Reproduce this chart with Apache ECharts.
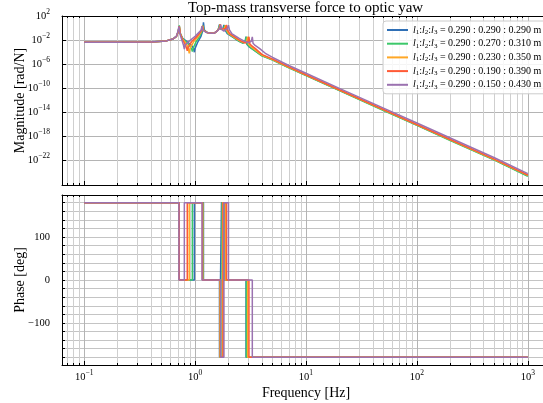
<!DOCTYPE html>
<html><head><meta charset="utf-8">
<script src="https://cdn.jsdelivr.net/npm/echarts@6/dist/echarts.min.js"></script>
<style>html,body{margin:0;padding:0;background:#fff}#c{width:543px;height:403px}</style>
</head><body><div id="c"></div><script>
// ---------- data ----------
const chartTitle = 'Top-mass transverse force to optic yaw';
const ratios = ['0.290 : 0.290 : 0.290', '0.290 : 0.270 : 0.310', '0.290 : 0.230 : 0.350', '0.290 : 0.190 : 0.390', '0.290 : 0.150 : 0.430'];
const colors = ['#2f6fb5', '#3cc86a', '#ffa726', '#ff5a36', '#9b72b0'];

const magTicks = [1e2, 1e-2, 1e-6, 1e-10, 1e-14, 1e-18, 1e-22];
const phaseLabelTicks = [-100, 0, 100];
const phaseGridTicks = [-180, -160, -140, -120, -100, -80, -60, -40, -20, 0, 20, 40, 60, 80, 100, 120, 140, 160, 180];
const freqMajorTicks = [0.1, 1, 10, 100, 1000];

// series 1 (blue)
const magFreq1 = [0.1,0.2,0.4,0.55,0.63,0.68,0.705,0.72,0.735,0.77,0.85,0.93,0.97,0.985,1.0,1.06,1.13,1.17,1.19,1.21,1.27,1.35,1.42,1.5,1.58,1.63,1.66,1.69,1.73,1.78,1.82,1.86,1.95,2.1,2.3,2.5,2.7,2.82,2.88,2.93,3.05,3.3,4,5,7,10,20,50,100,200,500,1000];
const mag1 = [4.0e-3,4.1e-3,4.7e-3,7.0e-3,1.4e-2,4.0e-2,0.25,2.0,0.13,2.0e-2,5.0e-3,1.3e-3,3.5e-4,9.0e-5,4.0e-4,5.0e-3,4.0e-2,0.3,9.0,0.5,0.2,0.14,0.13,0.15,0.3,0.9,4.0,0.6,0.3,0.8,3.2,0.5,0.12,5.0e-2,1.6e-2,6.0e-3,3.0e-3,6.0e-3,3.5e-2,2.0e-3,8.0e-4,3.0e-4,2.5e-5,5.0e-6,2.5e-7,1.3e-8,4.0e-11,2.0e-14,6.3e-17,2.0e-19,1.0e-22,2.2e-25];
const phFreq1 = [0.1,0.72,0.72,0.985,0.985,1.19,1.19,1.66,1.66,1.73,1.73,1.82,1.82,2.88,2.88,1000];
const ph1 = [180,180,0,0,180,180,0,0,-180,-180,180,180,0,0,-180,-180];

// series 2 (green)
const magFreq2 = [0.1,0.2,0.4,0.55,0.63,0.68,0.705,0.72,0.735,0.77,0.83,0.89,0.93,0.945,0.96,1.02,1.1,1.16,1.18,1.2,1.27,1.35,1.42,1.5,1.58,1.64,1.67,1.70,1.75,1.81,1.85,1.89,1.98,2.12,2.3,2.5,2.7,2.84,2.90,2.95,3.08,3.3,4,5,7,10,20,50,100,200,500,1000];
const mag2 = [4.0e-3,4.1e-3,4.7e-3,7.0e-3,1.4e-2,4.0e-2,0.3,2.8,0.13,1.8e-2,5.0e-3,1.2e-3,3.0e-4,1.2e-4,4.0e-4,5.0e-3,4.0e-2,0.35,2.5,0.45,0.2,0.14,0.13,0.15,0.3,0.9,4.0,0.6,0.3,0.8,3.0,0.5,0.12,5.0e-2,1.7e-2,6.0e-3,3.0e-3,6.0e-3,3.5e-2,2.0e-3,8.0e-4,3.0e-4,2.2e-5,4.5e-6,2.2e-7,1.1e-8,3.5e-11,1.7e-14,5.5e-17,1.7e-19,9.0e-23,1.8e-25];
const phFreq2 = [0.1,0.72,0.72,0.945,0.945,1.18,1.18,1.67,1.67,1.75,1.75,1.85,1.85,2.90,2.90,1000];
const ph2 = [180,180,0,0,180,180,0,0,-180,-180,180,180,0,0,-180,-180];

// series 3 (orange)
const magFreq3 = [0.1,0.2,0.4,0.55,0.63,0.68,0.705,0.72,0.735,0.77,0.82,0.86,0.875,0.885,0.9,0.97,1.07,1.15,1.17,1.19,1.26,1.35,1.42,1.5,1.58,1.65,1.68,1.71,1.77,1.84,1.88,1.92,2.01,2.16,2.35,2.55,2.78,2.92,2.98,3.03,3.16,3.4,4,5,7,10,20,50,100,200,500,1000];
const mag3 = [4.0e-3,4.1e-3,4.7e-3,7.0e-3,1.4e-2,4.0e-2,0.25,2.0,0.12,1.5e-2,3.5e-3,8.0e-4,2.0e-4,6.0e-5,4.0e-4,5.0e-3,4.0e-2,0.35,2.2,0.45,0.2,0.14,0.13,0.15,0.3,0.9,4.0,0.6,0.3,0.8,3.0,0.5,0.12,5.0e-2,1.7e-2,6.5e-3,3.2e-3,6.0e-3,3.5e-2,2.2e-3,9.0e-4,3.3e-4,3.0e-5,5.5e-6,2.7e-7,1.4e-8,4.4e-11,2.2e-14,7.0e-17,2.2e-19,1.1e-22,2.5e-25];
const phFreq3 = [0.1,0.72,0.72,0.885,0.885,1.17,1.17,1.68,1.68,1.77,1.77,1.88,1.88,2.98,2.98,1000];
const ph3 = [180,180,0,0,180,180,0,0,-180,-180,180,180,0,0,-180,-180];

// series 4 (red)
const magFreq4 = [0.1,0.2,0.4,0.55,0.63,0.68,0.705,0.72,0.735,0.77,0.81,0.84,0.85,0.865,0.93,1.04,1.14,1.165,1.185,1.26,1.35,1.42,1.5,1.58,1.66,1.69,1.72,1.79,1.88,1.92,1.96,2.05,2.2,2.4,2.6,2.85,3.0,3.06,3.11,3.25,3.5,4,5,7,10,20,50,100,200,500,1000];
const mag4 = [4.0e-3,4.1e-3,4.7e-3,7.0e-3,1.4e-2,4.0e-2,0.25,2.0,0.11,1.2e-2,2.0e-3,4.0e-4,1.5e-4,6.0e-4,5.0e-3,4.0e-2,0.35,2.2,0.45,0.2,0.14,0.13,0.15,0.3,0.9,4.0,0.6,0.3,0.8,3.2,0.5,0.12,5.0e-2,1.7e-2,6.5e-3,3.2e-3,6.0e-3,3.5e-2,2.4e-3,1.0e-3,3.6e-4,4.0e-5,6.5e-6,3.2e-7,1.6e-8,5.0e-11,2.5e-14,8.0e-17,2.5e-19,1.3e-22,2.9e-25];
const phFreq4 = [0.1,0.72,0.72,0.85,0.85,1.165,1.165,1.69,1.69,1.79,1.79,1.92,1.92,3.06,3.06,1000];
const ph4 = [180,180,0,0,180,180,0,0,-180,-180,180,180,0,0,-180,-180];

// series 5 (purple)
const magFreq5 = [0.1,0.2,0.4,0.55,0.63,0.68,0.70,0.715,0.73,0.76,0.785,0.80,0.815,0.88,1.0,1.13,1.155,1.175,1.25,1.35,1.42,1.5,1.58,1.67,1.70,1.73,1.82,1.95,2.0,2.04,2.14,2.3,2.5,2.75,3.05,3.21,3.28,3.33,3.48,3.8,4.3,5,7,10,20,50,100,200,500,1000];
const mag5 = [4.0e-3,4.1e-3,4.7e-3,7.0e-3,1.4e-2,4.5e-2,0.25,1.8,0.1,1.0e-2,1.5e-3,3.0e-4,1.5e-3,6.0e-3,4.0e-2,0.4,2.0,0.45,0.2,0.14,0.13,0.15,0.3,0.9,3.5,0.6,0.3,0.8,3.0,0.5,0.12,5.0e-2,1.8e-2,7.0e-3,3.5e-3,6.0e-3,3.2e-2,2.8e-3,1.2e-3,4.0e-4,6.0e-5,1.2e-5,5.5e-7,2.8e-8,8.5e-11,4.3e-14,1.4e-16,4.3e-19,2.2e-22,5.0e-25];
const phFreq5 = [0.1,0.715,0.715,0.80,0.80,1.155,1.155,1.70,1.70,1.82,1.82,2.0,2.0,3.28,3.28,1000];
const ph5 = [180,180,0,0,180,180,0,0,-180,-180,180,180,0,0,-180,-180];

// ---------- build chart ----------
const magFreqs = [magFreq1, magFreq2, magFreq3, magFreq4, magFreq5];
const mags = [mag1, mag2, mag3, mag4, mag5];
const phFreqs = [phFreq1, phFreq2, phFreq3, phFreq4, phFreq5];
const phs = [ph1, ph2, ph3, ph4, ph5];

const freqMinorTicks = [];
[0.01, 0.1, 1, 10, 100].forEach(d => { for (let k = 2; k <= 9; k++) freqMinorTicks.push(+(k * d).toPrecision(3)); });

const SERIF = '"Liberation Serif", "DejaVu Serif", serif';
const X_MIN = 0.0631, X_MAX = 1585;
const Y_MIN = 6.3e-27, Y_MAX = 100;
const names = ratios.map((r, i) => 'S' + i);

// centre the title over the plot area (plot spans x 62..550)
const TITLE_SIZE = 15;
const mctx = document.createElement('canvas').getContext('2d');
mctx.font = TITLE_SIZE + 'px ' + SERIF;
const titleW = mctx.measureText(chartTitle).width;
const titleLeft = Math.round(306 - titleW / 2);

function sup(e) { return '{b|10}{s|' + (e < 0 ? '\u2212' + (-e) : e) + '}'; }
const powRich = {
  b: { fontFamily: SERIF, fontSize: 10.5, color: '#000', lineHeight: 14 },
  s: { fontFamily: SERIF, fontSize: 7.5, color: '#000', padding: [0, 0, 8, 0], lineHeight: 14 }
};

function xAxes(gridIndex, showLabels) {
  return [
    { type: 'log', gridIndex, position: 'bottom', min: X_MIN, max: X_MAX, logBase: 10,
      axisLine: { show: true, onZero: false, lineStyle: { color: '#000', width: 1 } },
      axisTick: { show: true, inside: true, length: 4, lineStyle: { color: '#000' }, customValues: freqMajorTicks },
      axisLabel: { show: showLabels, customValues: freqMajorTicks, margin: 5,
        formatter: v => sup(Math.round(Math.log10(v))), rich: powRich },
      splitLine: { show: true, lineStyle: { color: '#b4b4b4', width: 1 } },
      name: showLabels ? 'Frequency [Hz]' : '', nameLocation: 'middle', nameGap: 17,
      nameTextStyle: { fontFamily: SERIF, fontSize: 14, color: '#000' } },
    { type: 'log', gridIndex, position: 'top', min: X_MIN, max: X_MAX, logBase: 10,
      axisLine: { show: true, onZero: false, lineStyle: { color: '#000', width: 1 } },
      axisTick: { show: true, inside: true, length: 2, lineStyle: { color: '#000' }, customValues: freqMinorTicks },
      axisLabel: { show: false },
      splitLine: { show: true, lineStyle: { color: '#cfcfcf', width: 1 } } },
    { type: 'log', gridIndex, position: 'bottom', min: X_MIN, max: X_MAX, logBase: 10, show: true,
      axisLine: { show: false, onZero: false },
      axisTick: { show: true, inside: true, length: 2, lineStyle: { color: '#000' }, customValues: freqMinorTicks },
      axisLabel: { show: false }, splitLine: { show: false } }
  ];
}

const series = [];
mags.forEach((m, i) => {
  series.push({ name: names[i], type: 'line', xAxisIndex: 0, yAxisIndex: 0, showSymbol: false, symbol: 'none',
    data: magFreqs[i].map((f, j) => [f, m[j]]), lineStyle: { width: 1.5, color: colors[i] }, itemStyle: { color: colors[i] }, z: 3 + i });
});
phs.forEach((p, i) => {
  series.push({ name: names[i], type: 'line', xAxisIndex: 3, yAxisIndex: 1, showSymbol: false, symbol: 'none',
    data: phFreqs[i].map((f, j) => [f, p[j]]), lineStyle: { width: 1.5, color: colors[i] }, itemStyle: { color: colors[i] }, z: 3 + i });
});

const option = {
  animation: false,
  backgroundColor: '#fff',
  title: { text: chartTitle, left: titleLeft, top: 1, padding: 0,
    textStyle: { fontFamily: SERIF, fontSize: TITLE_SIZE, fontWeight: 'normal', color: '#000' } },
  legend: {
    data: names, orient: 'vertical', left: 383, top: 21,
    icon: 'rect', itemWidth: 21, itemHeight: 2, itemGap: 1.7,
    padding: [3, 16, 3, 4], backgroundColor: 'rgba(255,255,255,0.85)', borderColor: '#cccccc', borderWidth: 1, borderRadius: 3,
    formatter: n => { const i = names.indexOf(n); return '{i|l}{u|1}{t|:}{i|l}{u|2}{t|:}{i|l}{u|3}{t| = ' + ratios[i] + ' m}'; },
    textStyle: { fontFamily: SERIF, fontSize: 10, color: '#000', lineHeight: 12,
      rich: {
        t: { fontFamily: SERIF, fontSize: 10, color: '#000', lineHeight: 12 },
        i: { fontFamily: SERIF, fontSize: 10, fontStyle: 'italic', color: '#000', lineHeight: 12 },
        u: { fontFamily: SERIF, fontSize: 7, color: '#000', padding: [4, 0, 0, 0], lineHeight: 12 }
      } }
  },
  grid: [
    { left: 62, top: 16, right: -7, height: 169, containLabel: false, outerBoundsMode: 'none' },
    { left: 62, top: 195, right: -7, height: 170, containLabel: false, outerBoundsMode: 'none' }
  ],
  xAxis: [...xAxes(0, false), ...xAxes(1, true)],
  yAxis: [
    { type: 'log', gridIndex: 0, min: Y_MIN, max: Y_MAX, logBase: 10,
      axisLine: { show: true, onZero: false, lineStyle: { color: '#000' } },
      axisTick: { show: true, inside: true, length: 4, lineStyle: { color: '#000' }, customValues: magTicks },
      axisLabel: { customValues: magTicks, margin: 12, formatter: v => sup(Math.round(Math.log10(v))), rich: powRich },
      splitLine: { show: true, lineStyle: { color: '#b4b4b4' } },
      name: 'Magnitude [rad/N]', nameLocation: 'middle', nameGap: 35, nameRotate: 90, nameMoveOverlap: false,
      nameTextStyle: { fontFamily: SERIF, fontSize: 14, color: '#000' } },
    { type: 'value', gridIndex: 1, min: -198, max: 198,
      axisLine: { show: true, onZero: false, lineStyle: { color: '#000' } },
      axisTick: { show: true, inside: true, length: 3, lineStyle: { color: '#000' }, customValues: phaseGridTicks },
      axisLabel: { customValues: phaseLabelTicks, margin: 12, fontFamily: SERIF, fontSize: 10.5, color: '#000',
        formatter: v => (v < 0 ? '\u2212' + (-v) : '' + v) },
      splitLine: { show: true, lineStyle: { color: '#c4c4c4' } },
      name: 'Phase [deg]', nameLocation: 'middle', nameGap: 35, nameRotate: 90, nameMoveOverlap: false,
      nameTextStyle: { fontFamily: SERIF, fontSize: 14, color: '#000' } }
  ],
  series
};
const chart = echarts.init(document.getElementById('c'), null, { renderer: 'canvas' });
chart.setOption(option);
</script></body></html>
